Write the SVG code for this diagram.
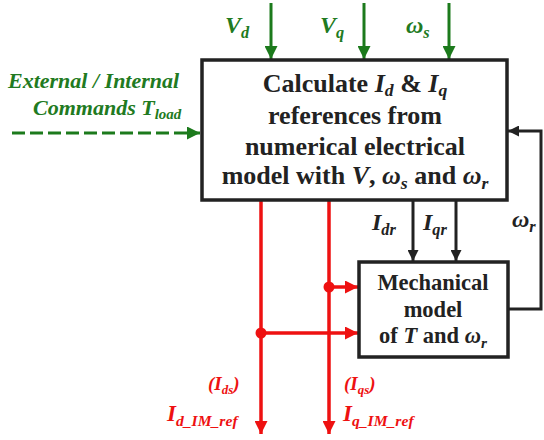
<svg xmlns="http://www.w3.org/2000/svg" width="544" height="440" viewBox="0 0 544 440">
<style>
text{font-family:"Liberation Serif","Times New Roman","DejaVu Serif",serif;font-weight:bold}
.box{fill:#fff;stroke:#222;stroke-width:3.5}
.t{font-size:26px;fill:#222;text-anchor:middle}
.m{font-size:22.5px;fill:#222;text-anchor:middle}
.g{fill:#217a21;font-style:italic}
.r{fill:#ee1111;font-style:italic}
.k{fill:#222;font-style:italic}
.i{font-style:italic}
.s{font-size:0.68em}
.gl{stroke:#1c7a1c;stroke-width:3;fill:none}
.rl{stroke:#ee1111;stroke-width:3.5;fill:none}
.bl{stroke:#222;stroke-width:3;fill:none}
</style>
<defs>
<marker id="ag" viewBox="0 0 10 10" refX="10" refY="5" markerWidth="14" markerHeight="13" markerUnits="userSpaceOnUse" orient="auto"><path d="M0,0 L10,5 L0,10 z" fill="#1c7a1c"/></marker>
<marker id="ar" viewBox="0 0 10 10" refX="10" refY="5" markerWidth="14" markerHeight="13" markerUnits="userSpaceOnUse" orient="auto"><path d="M0,0 L10,5 L0,10 z" fill="#ee1111"/></marker>
<marker id="ab" viewBox="0 0 10 10" refX="10" refY="5" markerWidth="12" markerHeight="11" markerUnits="userSpaceOnUse" orient="auto"><path d="M0,0 L10,5 L0,10 z" fill="#222"/></marker>
</defs>
<g id="connectors">
<line class="gl" x1="271" y1="3" x2="271" y2="59" marker-end="url(#ag)"/>
<line class="gl" x1="364" y1="3" x2="364" y2="59" marker-end="url(#ag)"/>
<line class="gl" x1="449" y1="3" x2="449" y2="59" marker-end="url(#ag)"/>
<line class="gl" x1="12" y1="133" x2="200" y2="133" stroke-width="4" stroke-dasharray="13,5" marker-end="url(#ag)"/>
<line class="bl" x1="413" y1="200" x2="413" y2="261" marker-end="url(#ab)"/>
<line class="bl" x1="456" y1="200" x2="456" y2="261" marker-end="url(#ab)"/>
<polyline class="bl" points="508,309 541,309 541,131 508,131" marker-end="url(#ab)"/>
<line class="rl" x1="261" y1="200" x2="261" y2="434" marker-end="url(#ar)"/>
<line class="rl" x1="329" y1="200" x2="329" y2="434" marker-end="url(#ar)"/>
<line class="rl" x1="329" y1="287" x2="358" y2="287" marker-end="url(#ar)"/>
<line class="rl" x1="261" y1="333" x2="358" y2="333" marker-end="url(#ar)"/>
<circle cx="329" cy="287" r="5.5" fill="#ee1111"/>
<circle cx="261" cy="333" r="5.5" fill="#ee1111"/>
</g>
<g id="main">
<rect class="box" x="202" y="60" width="305" height="140"/>
<text class="t" x="355" y="92">Calculate <tspan class="i">I</tspan><tspan class="i s" dy="4">d</tspan><tspan dy="-4"> &amp; </tspan><tspan class="i">I</tspan><tspan class="i s" dy="4">q</tspan></text>
<text class="t" x="355" y="124">references from</text>
<text class="t" x="355" y="155">numerical electrical</text>
<text class="t" x="355" y="184">model with <tspan class="i">V</tspan>, <tspan class="i">ω</tspan><tspan class="i s" dy="5">s</tspan><tspan dy="-5"> and </tspan><tspan class="i">ω</tspan><tspan class="i s" dy="5">r</tspan></text>
</g>
<g id="mech">
<rect class="box" x="359" y="262" width="149" height="95" stroke-width="3"/>
<text class="m" x="433" y="290">Mechanical</text>
<text class="m" x="433" y="317">model</text>
<text class="m" x="433" y="343">of <tspan class="i">T</tspan> and <tspan class="i">ω</tspan><tspan class="i s" dy="5">r</tspan></text>
</g>
<g id="labels">
<text class="g" x="225" y="33" font-size="24">V<tspan class="s" dy="5">d</tspan></text>
<text class="g" x="320" y="33" font-size="24">V<tspan class="s" dy="5">q</tspan></text>
<text class="g" x="406" y="33" font-size="24">ω<tspan class="s" dy="5">s</tspan></text>
<text class="g" x="8" y="88" font-size="22">External / Internal</text>
<text class="g" x="33" y="115" font-size="22">Commands T<tspan class="s" dy="4">load</tspan></text>
<text class="k" x="372" y="230" font-size="24">I<tspan class="s" dy="5">dr</tspan></text>
<text class="k" x="423" y="230" font-size="24">I<tspan class="s" dy="5">qr</tspan></text>
<text class="k" x="512" y="227" font-size="24">ω<tspan class="s" dy="5">r</tspan></text>
<text class="r" x="208" y="390" font-size="19">(I<tspan class="s" dy="4">ds</tspan><tspan dy="-4">)</tspan></text>
<text class="r" x="167" y="421" font-size="23">I<tspan class="s" dy="5">d_IM_ref</tspan></text>
<text class="r" x="344" y="390" font-size="19">(I<tspan class="s" dy="4">qs</tspan><tspan dy="-4">)</tspan></text>
<text class="r" x="343" y="421" font-size="23">I<tspan class="s" dy="5">q_IM_ref</tspan></text>
</g>
</svg>
